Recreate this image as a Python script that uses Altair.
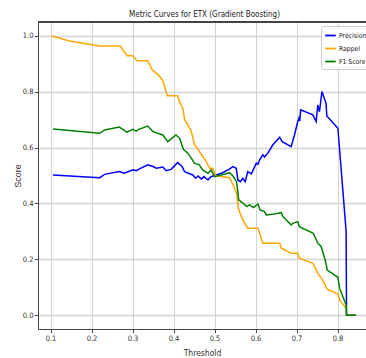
import altair as alt
import pandas as pd

# Threshold sweep results for the gradient-boosting ETX model
prec_t = [0.106, 0.220, 0.232, 0.268, 0.280, 0.301, 0.309, 0.315, 0.337, 0.350,
          0.358, 0.374, 0.382, 0.394, 0.410, 0.421, 0.427, 0.447, 0.454, 0.460,
          0.468, 0.474, 0.484, 0.490, 0.496, 0.504, 0.520, 0.535, 0.545, 0.553,
          0.557, 0.563, 0.569, 0.575, 0.581, 0.590, 0.602, 0.606, 0.610, 0.618,
          0.622, 0.630, 0.642, 0.659, 0.665, 0.687, 0.695, 0.703, 0.706, 0.708,
          0.710, 0.740, 0.748, 0.752, 0.756, 0.762, 0.772, 0.774, 0.801, 0.821,
          0.822, 0.845]
prec_v = [0.502, 0.492, 0.504, 0.514, 0.508, 0.520, 0.517, 0.522, 0.538, 0.532,
          0.526, 0.530, 0.517, 0.522, 0.546, 0.532, 0.514, 0.502, 0.490, 0.498,
          0.487, 0.496, 0.484, 0.494, 0.498, 0.502, 0.510, 0.522, 0.532, 0.526,
          0.484, 0.478, 0.490, 0.478, 0.514, 0.506, 0.544, 0.540, 0.556, 0.574,
          0.566, 0.580, 0.609, 0.637, 0.621, 0.603, 0.645, 0.693, 0.705, 0.695,
          0.735, 0.717, 0.693, 0.752, 0.728, 0.800, 0.758, 0.713, 0.669, 0.300,
          0.000, 0.000]

rec_t = [0.102, 0.146, 0.220, 0.270, 0.287, 0.301, 0.311, 0.337, 0.348, 0.363,
         0.374, 0.378, 0.385, 0.410, 0.415, 0.419, 0.423, 0.427, 0.443, 0.451,
         0.468, 0.480, 0.488, 0.496, 0.502, 0.537, 0.545, 0.554, 0.558, 0.569,
         0.581, 0.606, 0.618, 0.659, 0.663, 0.687, 0.703, 0.707, 0.740, 0.752,
         0.764, 0.775, 0.801, 0.805, 0.821, 0.822, 0.845]
rec_v = [1.000, 0.981, 0.963, 0.963, 0.928, 0.928, 0.910, 0.910, 0.878, 0.860,
         0.839, 0.818, 0.785, 0.785, 0.764, 0.752, 0.740, 0.700, 0.660, 0.612,
         0.575, 0.550, 0.526, 0.526, 0.500, 0.492, 0.466, 0.437, 0.383, 0.341,
         0.311, 0.311, 0.258, 0.258, 0.240, 0.222, 0.222, 0.204, 0.186, 0.150,
         0.126, 0.093, 0.076, 0.055, 0.025, 0.000, 0.000]

f1_t = [0.106, 0.220, 0.232, 0.268, 0.286, 0.301, 0.309, 0.315, 0.337, 0.350,
        0.374, 0.386, 0.406, 0.415, 0.424, 0.435, 0.446, 0.451, 0.463, 0.471,
        0.484, 0.492, 0.500, 0.528, 0.537, 0.545, 0.554, 0.559, 0.569, 0.579,
        0.585, 0.595, 0.606, 0.611, 0.622, 0.626, 0.642, 0.663, 0.667, 0.687,
        0.691, 0.703, 0.707, 0.741, 0.752, 0.760, 0.770, 0.775, 0.801, 0.805,
        0.821, 0.822, 0.845]
f1_v = [0.666, 0.651, 0.663, 0.673, 0.655, 0.665, 0.659, 0.665, 0.677, 0.657,
        0.645, 0.621, 0.645, 0.633, 0.594, 0.580, 0.556, 0.544, 0.538, 0.520,
        0.508, 0.520, 0.496, 0.506, 0.510, 0.498, 0.478, 0.413, 0.401, 0.389,
        0.395, 0.385, 0.398, 0.377, 0.371, 0.359, 0.361, 0.367, 0.353, 0.323,
        0.329, 0.335, 0.317, 0.293, 0.258, 0.246, 0.198, 0.162, 0.136, 0.097,
        0.037, 0.000, 0.000]

metrics = ["Précision", "Rappel", "F1 Score"]
colors = ["#0000ff", "#ffa500", "#008000"]
x_ticks = [0.1, 0.2, 0.3, 0.4, 0.5, 0.6, 0.7, 0.8]
y_ticks = [0.0, 0.2, 0.4, 0.6, 0.8, 1.0]

frames = []
for i, (name, ts, vs) in enumerate(zip(metrics, [prec_t, rec_t, f1_t], [prec_v, rec_v, f1_v])):
    frames.append(pd.DataFrame({"Threshold": ts, "Score": vs, "Metric": name, "layer": i}))
data = pd.concat(frames, ignore_index=True)

NARROW = "Liberation Sans Narrow, DejaVu Sans Condensed, sans-serif"
W, H = 328, 307

x = alt.X("Threshold:Q",
          scale=alt.Scale(domain=[0.0695, 0.0695 + W / 410], nice=False, zero=False),
          axis=alt.Axis(values=x_ticks, format=".1f", title="Threshold",
                        titlePadding=7))
y = alt.Y("Score:Q",
          scale=alt.Scale(domain=[-0.049, 1.049], nice=False, zero=False),
          axis=alt.Axis(values=y_ticks, format=".1f", title="Score",
                        titleFont="Liberation Sans", titleFontSize=9,
                        titlePadding=0))

lines = alt.Chart(data).mark_line(strokeWidth=1.5, clip=True).encode(
    x=x,
    y=y,
    color=alt.Color("Metric:N",
                    scale=alt.Scale(domain=metrics, range=colors),
                    sort=metrics,
                    legend=alt.Legend(title=None, orient="none",
                                      legendX=283, legendY=4)),
    detail="layer:N",
)

# top spine of the frame
top = alt.Chart(data).mark_rule(color="#444", strokeWidth=1).encode(
    x=alt.value(0), x2=alt.value(W), y=alt.value(0)
)

chart = alt.layer(lines, top).properties(
    width=W,
    height=H,
    title=alt.Title("Metric Curves for ETX (Gradient Boosting)",
                    font=NARROW, fontSize=8, fontWeight="normal",
                    color="#222", anchor="middle", dx=2.5, offset=3,
                    frame="group"),
    autosize=alt.AutoSizeParams(type="none"),
    padding={"left": 38, "top": 22, "right": 0, "bottom": 29},
).configure_view(
    stroke=None
).configure_axis(
    grid=True,
    gridColor="#d4d4d4",
    gridWidth=1,
    domainColor="#444",
    domainWidth=1,
    tickColor="#444",
    tickSize=3.5,
    labelPadding=1.5,
    labelFont=NARROW,
    labelFontSize=7.5,
    labelColor="#333",
    titleFont=NARROW,
    titleFontSize=8.5,
    titleFontWeight="normal",
    titleColor="#333",
).configure_axisY(
    gridWidth=1.3,
).configure_legend(
    symbolType="stroke",
    symbolSize=110,
    symbolStrokeWidth=1.8,
    labelFont=NARROW,
    labelFontSize=6.8,
    labelOffset=2,
    labelColor="#222",
    fillColor="white",
    strokeColor="#cccccc",
    cornerRadius=2,
    padding=3,
    rowPadding=2,
)

chart.save("out.html", embed_options={"renderer": "svg", "actions": False})
